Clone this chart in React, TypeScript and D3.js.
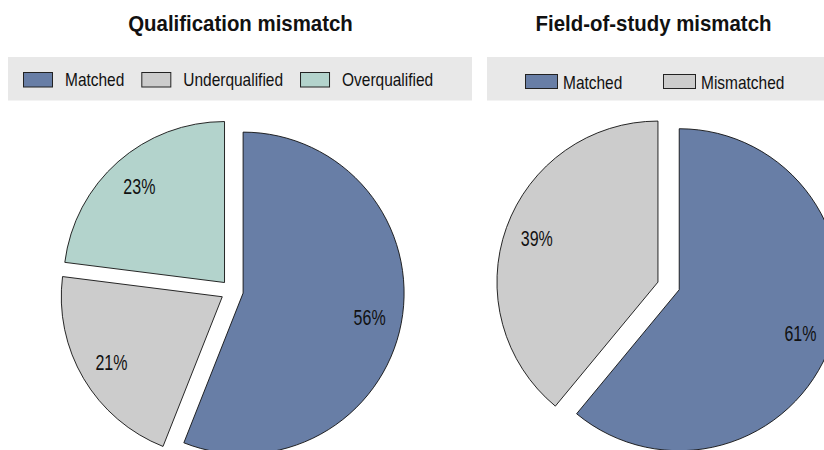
import { useEffect, useRef } from "react";
import * as d3 from "d3";

// Shares in percent
const qualCategories = ["Matched", "Underqualified", "Overqualified"];
const qualShares = [56, 21, 23];
const fieldCategories = ["Matched", "Mismatched"];
const fieldShares = [61, 39];
const panelTitles = ["Qualification mismatch", "Field-of-study mismatch"];

const colorByCategory: Record<string, string> = {
  Matched: "#687ea6",
  Underqualified: "#cccccc",
  Mismatched: "#cccccc",
  Overqualified: "#b3d3cc",
};

const W = 824;
const H = 450;
const FONT = "'Liberation Sans', Arial, Helvetica, sans-serif";
const RADIUS = 161;
const EXPLODE = 11.3;
const LABEL_RATIO = 0.8;

interface LegendLayout {
  boxX0: number;
  boxX1: number;
  start: number;
  swatchW: number;
  swatchH: number;
  swatchY: number;
  textY: number;
  textGap: number;
  itemGap?: number; // flowing items
  colWidth?: number; // fixed columns
}

interface PanelSpec {
  title: string;
  categories: string[];
  shares: number[];
  titleX: number;
  cx: number;
  cy: number;
  legend: LegendLayout;
}

const panels: PanelSpec[] = [
  {
    title: panelTitles[0],
    categories: qualCategories,
    shares: qualShares,
    titleX: 240.5,
    cx: 232,
    cy: 291,
    legend: {
      boxX0: 8,
      boxX1: 472,
      start: 23,
      swatchW: 30,
      swatchH: 15.5,
      swatchY: 72,
      textY: 85.5,
      textGap: 12,
      itemGap: 17,
    },
  },
  {
    title: panelTitles[1],
    categories: fieldCategories,
    shares: fieldShares,
    titleX: 653.5,
    cx: 668.6,
    cy: 285.9,
    legend: {
      boxX0: 487,
      boxX1: 840,
      start: 525,
      swatchW: 33,
      swatchH: 15,
      swatchY: 74,
      textY: 89,
      textGap: 5,
      colWidth: 138,
    },
  },
];

export default function App() {
  const svgRef = useRef<SVGSVGElement>(null);

  useEffect(() => {
    const svg = d3.select(svgRef.current);
    svg.selectAll("*").remove();

    svg.append("rect").attr("width", W).attr("height", H).attr("fill", "#ffffff");

    const pie = d3
      .pie<number>()
      .sort(null)
      .value((d) => d);
    const arc = d3.arc<d3.PieArcDatum<number>>().innerRadius(0).outerRadius(RADIUS);

    panels.forEach((p) => {
      // title
      svg
        .append("text")
        .attr("transform", `translate(${p.titleX},31) scale(0.95,1.03)`)
        .attr("text-anchor", "middle")
        .attr("font-family", FONT)
        .attr("font-weight", "bold")
        .attr("font-size", 21.5)
        .attr("fill", "#111")
        .text(p.title);

      // legend box
      const lg = p.legend;
      svg
        .append("rect")
        .attr("x", lg.boxX0)
        .attr("y", 57)
        .attr("width", lg.boxX1 - lg.boxX0)
        .attr("height", 43.5)
        .attr("fill", "#e8e8e8");

      let x = lg.start;
      p.categories.forEach((cat, i) => {
        const itemX = lg.colWidth != null ? lg.start + i * lg.colWidth : x;
        svg
          .append("rect")
          .attr("x", itemX + 0.5)
          .attr("y", lg.swatchY + 0.5)
          .attr("width", lg.swatchW - 1)
          .attr("height", lg.swatchH - 1)
          .attr("fill", colorByCategory[cat])
          .attr("stroke", "#222")
          .attr("stroke-width", 1);
        const t = svg
          .append("text")
          .attr(
            "transform",
            `translate(${itemX + lg.swatchW + lg.textGap},${lg.textY}) scale(0.86,1.04)`
          )
          .attr("font-family", FONT)
          .attr("font-size", 18)
          .attr("fill", "#111")
          .text(cat);
        const tw = (t.node() as SVGTextElement).getComputedTextLength() * 0.86;
        x = itemX + lg.swatchW + lg.textGap + tw + (lg.itemGap ?? 0);
      });

      // exploded pie
      const g = svg.append("g").attr("transform", `translate(${p.cx},${p.cy})`);
      const arcs = pie(p.shares);
      arcs.forEach((a, i) => {
        const mid = (a.startAngle + a.endAngle) / 2;
        const ux = Math.sin(mid);
        const uy = -Math.cos(mid);
        const sg = g
          .append("g")
          .attr("transform", `translate(${ux * EXPLODE},${uy * EXPLODE})`);
        sg.append("path")
          .attr("d", arc(a) as string)
          .attr("fill", colorByCategory[p.categories[i]])
          .attr("stroke", "#111")
          .attr("stroke-width", 0.9)
          .attr("stroke-linejoin", "miter");
        sg.append("text")
          .attr(
            "transform",
            `translate(${ux * RADIUS * LABEL_RATIO},${uy * RADIUS * LABEL_RATIO}) scale(0.8,1.08)`
          )
          .attr("text-anchor", "middle")
          .attr("dy", "0.36em")
          .attr("font-family", FONT)
          .attr("font-size", 20)
          .attr("fill", "#111")
          .text(`${p.shares[i]}%`);
      });
    });
  }, []);

  return (
    <svg
      ref={svgRef}
      width={W}
      height={H}
      style={{ position: "absolute", left: 0, top: 0, display: "block" }}
    />
  );
}
